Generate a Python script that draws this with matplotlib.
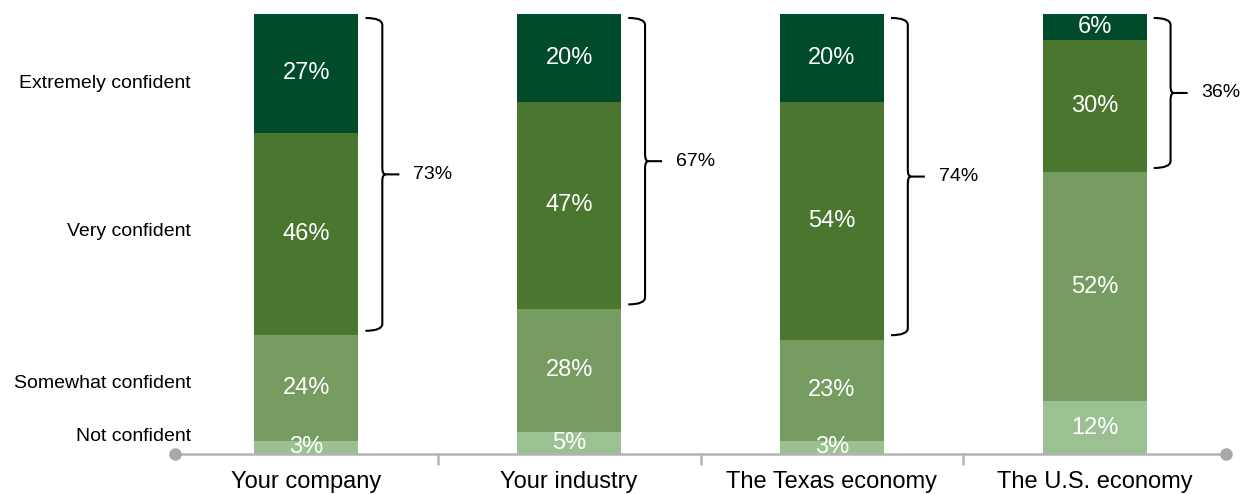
import numpy as np
import matplotlib
matplotlib.use("Agg")
import matplotlib.pyplot as plt
from matplotlib.path import Path
from matplotlib.patches import PathPatch

plt.rcParams['font.family'] = ['Liberation Sans', 'DejaVu Sans']

categories = ['Your company', 'Your industry', 'The Texas economy', 'The U.S. economy']
levels = ['Not confident', 'Somewhat confident', 'Very confident', 'Extremely confident']
not_conf = [3, 5, 3, 12]
somewhat = [24, 28, 23, 52]
very = [46, 47, 54, 30]
extremely = [27, 20, 20, 6]
top_two = [73, 67, 74, 36]
level_label_y = [3.9, 16.1, 50.5, 84.3]

series = [not_conf, somewhat, very, extremely]
colors = ['#9bc193', '#769c62', '#4a762f', '#004b2a']

fig = plt.figure(figsize=(12.44, 4.94), dpi=100)
ax = fig.add_axes([175/1244, 1 - 454/494, (1226 - 175)/1244, 440/494])

x = np.arange(len(categories))
w = 0.396
bottom = np.zeros(len(categories))
for vals, col in zip(series, colors):
    ax.bar(x, vals, w, bottom=bottom, color=col, edgecolor='none', zorder=2)
    for xi, b, v in zip(x, bottom, vals):
        ax.text(xi, b + v / 2, f'{v}%', ha='center', va='center',
                color='white', fontsize=17, zorder=3)
    bottom += np.array(vals)

# curly braces spanning the top two boxes
def brace(ax, xc, ylo, yhi, label):
    xa = xc + 0.225
    xv = xc + 0.289
    xt = xc + 0.354
    ym = (ylo + yhi) / 2
    r = 1.6
    s = 0.012
    verts = [(xa, yhi), (xv, yhi), (xv, yhi - r),
             (xv, ym + r), (xv, ym), (xv + s, ym),
             (xt, ym),
             (xv + s, ym), (xv, ym), (xv, ym - r),
             (xv, ylo + r), (xv, ylo), (xa, ylo)]
    codes = [Path.MOVETO, Path.CURVE3, Path.CURVE3,
             Path.LINETO, Path.CURVE3, Path.CURVE3,
             Path.LINETO,
             Path.MOVETO, Path.CURVE3, Path.CURVE3,
             Path.LINETO, Path.CURVE3, Path.CURVE3]
    ax.add_patch(PathPatch(Path(verts, codes), fill=False, lw=1.5,
                           edgecolor='black', clip_on=False))
    ax.text(xt + 0.053, ym, label, ha='left', va='center', fontsize=14,
            clip_on=False)

for xi, v, e, t in zip(x, very, extremely, top_two):
    lo = 100 - e - v
    brace(ax, xi, lo + 1.0, 99.1, f'{t}%')

for lab, yy in zip(levels, level_label_y):
    ax.text(-0.44, yy, lab, ha='right', va='center', fontsize=14)

ax.set_xlim(-0.5, len(categories) - 0.5)
ax.set_ylim(0, 100)
for sp in ['top', 'right', 'left']:
    ax.spines[sp].set_visible(False)
ax.spines['bottom'].set_color('#b4b4b4')
ax.spines['bottom'].set_linewidth(1.8)
ax.set_yticks([])
ax.set_xticks(x)
ax.set_xticklabels(categories, fontsize=17)
ax.tick_params(axis='x', which='major', length=0, pad=12)
ax.set_xticks(x[:-1] + 0.5, minor=True)
ax.tick_params(axis='x', which='minor', length=8, width=1.8, color='#b4b4b4')
ax.plot([-0.5, len(categories) - 0.5], [0, 0], 'o', color='#a8a8a8',
        markersize=8, clip_on=False, zorder=4)

fig.savefig('out.png', dpi=100)
